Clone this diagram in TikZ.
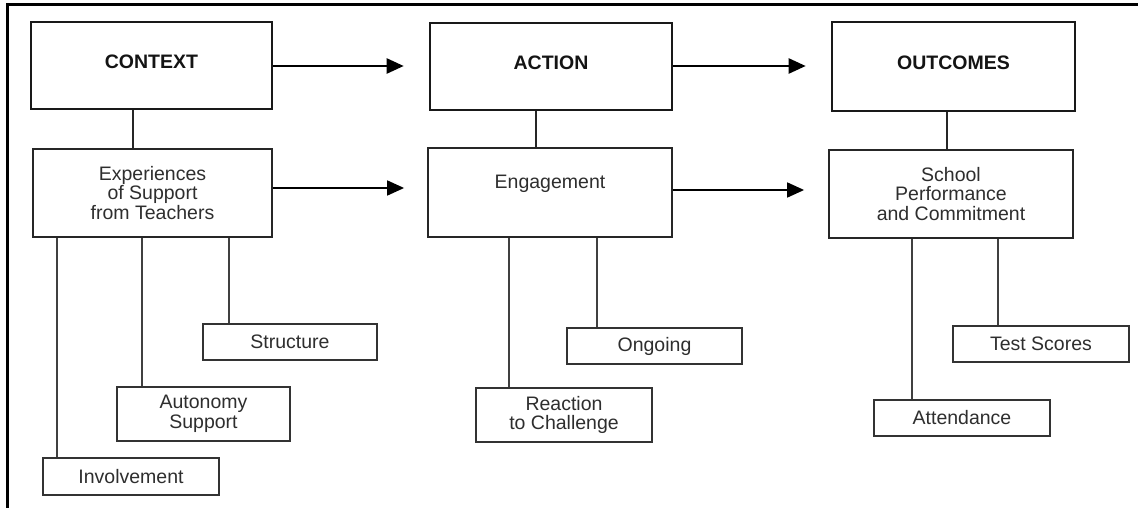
\documentclass[tikz,border=0pt]{standalone}
\usepackage{fontspec}
\setmainfont{Liberation Sans}
\usetikzlibrary{arrows.meta}
\begin{document}
\begin{tikzpicture}[x=1pt,y=-1pt,
  every node/.style={font=\fontsize{19.5}{19.5}\selectfont, text=black!82, align=center, inner sep=0pt},
  bigbox/.style={draw=black!90, line width=2.6pt, font=\fontsize{19.5}{19.5}\selectfont\bfseries, text=black!92, text height=14pt, text depth=7pt},
  midbox/.style={draw=black!85, line width=1.8pt},
  smallbox/.style={draw=black!80, line width=1.4pt},
  link/.style={draw=black!85, line width=2.2pt},
  thin/.style={draw=black!75, line width=1.2pt},
  arr/.style={draw=black, line width=2.4pt, -{Triangle[length=17pt,width=15pt]}},
  arrb/.style={draw=black, line width=1.8pt, -{Triangle[length=17pt,width=15pt]}}]
\useasboundingbox (0,0) rectangle (1138,508);
\fill[white] (0,0) rectangle (1138,508);
\draw[line width=3pt, black] (7,508) -- (7,5) -- (1138,5);

% top row
\node[bigbox, minimum width=241pt, minimum height=87pt] (ctx) at (151.5,65.5) {CONTEXT};
\node[bigbox, minimum width=242pt, minimum height=87pt] (act) at (551,66.5) {ACTION};
\node[bigbox, minimum width=243pt, minimum height=89pt] (out) at (953.5,66.5) {OUTCOMES};

% second row
\node[midbox, minimum width=239pt, minimum height=88pt] (exp) at (152.5,193) {Experiences\\of Support\\from Teachers};
\node[midbox, minimum width=244pt, minimum height=89pt, text height=14pt, text depth=23pt] (eng) at (550,192.5) {Engagement};
\node[midbox, minimum width=244pt, minimum height=88pt] (sch) at (951,194) {School\\Performance\\and Commitment};

% small boxes
\node[smallbox, minimum width=174pt, minimum height=36pt] (str) at (290,342) {Structure};
\node[smallbox, minimum width=173pt, minimum height=54pt] (aut) at (203.5,414) {Autonomy\\Support};
\node[smallbox, minimum width=176pt, minimum height=37pt] (inv) at (131,476.5) {Involvement};
\node[smallbox, minimum width=175pt, minimum height=36pt] (ong) at (654.5,346) {Ongoing};
\node[smallbox, minimum width=176pt, minimum height=54pt] (rea) at (564,415) {Reaction\\to Challenge};
\node[smallbox, minimum width=176pt, minimum height=36pt] (tst) at (1041,344) {Test Scores};
\node[smallbox, minimum width=176pt, minimum height=36pt] (att) at (962,418) {Attendance};

% vertical links top
\draw[link] (ctx.south -| 133,0) -- (exp.north -| 133,0);
\draw[link] (act.south -| 536,0) -- (eng.north -| 536,0);
\draw[link] (out.south -| 947,0) -- (sch.north -| 947,0);

% horizontal arrows
\draw[arr, shorten >=25pt] (ctx.east |- 0,66) -- (act.west |- 0,66);
\draw[arr, shorten >=25pt] (act.east |- 0,66) -- (out.west |- 0,66);
\draw[arrb, shorten >=23pt] (exp.east |- 0,188) -- (eng.west |- 0,188);
\draw[arrb, shorten >=24pt] (eng.east |- 0,190) -- (sch.west |- 0,190);

% thin verticals
\draw[thin] (exp.south -| 57,0) -- (inv.north -| 57,0);
\draw[thin] (exp.south -| 142,0) -- (aut.north -| 142,0);
\draw[thin] (exp.south -| 229,0) -- (str.north -| 229,0);
\draw[thin] (eng.south -| 509,0) -- (rea.north -| 509,0);
\draw[thin] (eng.south -| 597,0) -- (ong.north -| 597,0);
\draw[thin] (sch.south -| 912,0) -- (att.north -| 912,0);
\draw[thin] (sch.south -| 998,0) -- (tst.north -| 998,0);
\end{tikzpicture}
\end{document}
